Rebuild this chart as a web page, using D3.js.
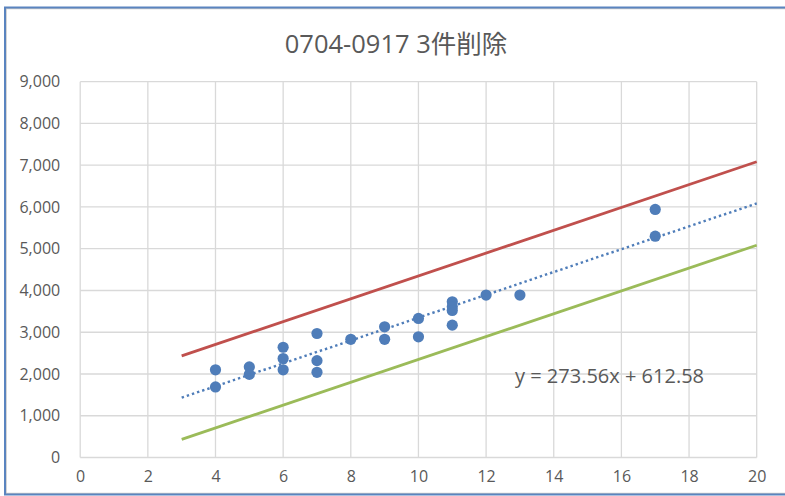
<!DOCTYPE html>
<html>
<head>
<meta charset="utf-8">
<script src="https://cdn.jsdelivr.net/npm/d3@7"></script>
<style>
  html, body { margin: 0; padding: 0; background: #fff; }
  svg { display: block; }
  text { font-family: "Open Sans", "Noto Sans CJK JP", sans-serif; fill: #595959; }
</style>
</head>
<body>
<svg id="chart" width="785" height="496"></svg>
<script>
// Observations: count on x, amount on y
const xValues = [4, 4, 5, 5, 6, 6, 6, 7, 7, 7, 8, 9, 9, 10, 10, 11, 11, 11, 11, 12, 13, 17, 17];
const yValues = [2100, 1690, 2170, 1990, 2640, 2370, 2100, 2970, 2320, 2040, 2830, 3130, 2830, 3330, 2890, 3730, 3610, 3520, 3170, 3890, 3890, 5940, 5300];

// Linear trend (from the fitted equation) and its ±1000 band
const trendSlope = 273.56;
const trendIntercept = 612.58;
const trendRange = [3, 20];
const bandOffsets = [1000, -1000];

const xTicks = [0, 2, 4, 6, 8, 10, 12, 14, 16, 18, 20];
const yTicks = [0, 1000, 2000, 3000, 4000, 5000, 6000, 7000, 8000, 9000];

const titleText = "0704-0917 3件削除";
const equationText = "y = 273.56x + 612.58";

const svg = d3.select("#chart");

// outer frame
svg.append("rect")
  .attr("x", 6).attr("y", 8.5).attr("width", 800).attr("height", 485)
  .attr("fill", "none").attr("stroke", "#c8c8c8").attr("stroke-width", 1.5);
svg.append("rect")
  .attr("x", 5).attr("y", 7.5).attr("width", 800).attr("height", 487)
  .attr("fill", "none").attr("stroke", "#5a84bf").attr("stroke-width", 2);

const plotLeft = 80.2, plotRight = 756.7, plotTop = 81.7, plotBottom = 457.5;

const x = d3.scaleLinear().domain([0, 20]).range([plotLeft, plotRight]);
const y = d3.scaleLinear().domain([0, 9000]).range([plotBottom, plotTop]);

// gridlines
const grid = svg.append("g").attr("stroke", "#d9d9d9").attr("stroke-width", 1.3);
grid.selectAll("line.v").data(xTicks).join("line")
  .attr("class", "v")
  .attr("x1", d => x(d)).attr("x2", d => x(d))
  .attr("y1", plotTop).attr("y2", plotBottom);
grid.selectAll("line.h").data(yTicks).join("line")
  .attr("class", "h")
  .attr("x1", plotLeft).attr("x2", plotRight)
  .attr("y1", d => y(d)).attr("y2", d => y(d));

// axes (labels only)
const fmt = d3.format(",");
const yAxis = d3.axisLeft(y).tickValues(yTicks).tickFormat(fmt).tickSize(0).tickPadding(20);
const gy = svg.append("g").attr("transform", `translate(${plotLeft},0)`).call(yAxis);
gy.select(".domain").remove();
gy.selectAll("text").style("font-size", "16px").attr("fill", "#595959")
  .style("font-family", "'Open Sans', sans-serif");

const xAxis = d3.axisBottom(x).tickValues(xTicks).tickSize(0).tickPadding(13);
const gx = svg.append("g").attr("transform", `translate(0,${plotBottom})`).call(xAxis);
gx.select(".domain").remove();
gx.selectAll("text").style("font-size", "16px").attr("fill", "#595959")
  .style("font-family", "'Open Sans', sans-serif");

// band lines and trendline
const line = d3.line().x(d => x(d[0])).y(d => y(d[1]));
const trendAt = v => trendSlope * v + trendIntercept;
const bandColors = ["#c0504d", "#9bbb59"];

bandOffsets.forEach((off, i) => {
  svg.append("path")
    .datum(trendRange.map(v => [v, trendAt(v) + off]))
    .attr("d", line)
    .attr("fill", "none")
    .attr("stroke", bandColors[i])
    .attr("stroke-width", 2.8);
});

// scatter points
const pts = xValues.map((v, i) => [v, yValues[i]]);
svg.append("g").selectAll("circle").data(pts).join("circle")
  .attr("cx", d => x(d[0])).attr("cy", d => y(d[1]))
  .attr("r", 5.6).attr("fill", "#4f7db9");

svg.append("path")
  .datum(trendRange.map(v => [v, trendAt(v)]))
  .attr("d", line)
  .attr("fill", "none")
  .attr("stroke", "#4f7db9")
  .attr("stroke-width", 2.4)
  .attr("stroke-dasharray", "2.4,3");

// title
svg.append("text")
  .attr("x", 396).attr("y", 53)
  .attr("text-anchor", "middle")
  .style("font-size", "25.5px")
  .text(titleText);

// equation label
svg.append("text")
  .attr("x", 515).attr("y", 383)
  .style("font-size", "20px")
  .text(equationText);
</script>
</body>
</html>
